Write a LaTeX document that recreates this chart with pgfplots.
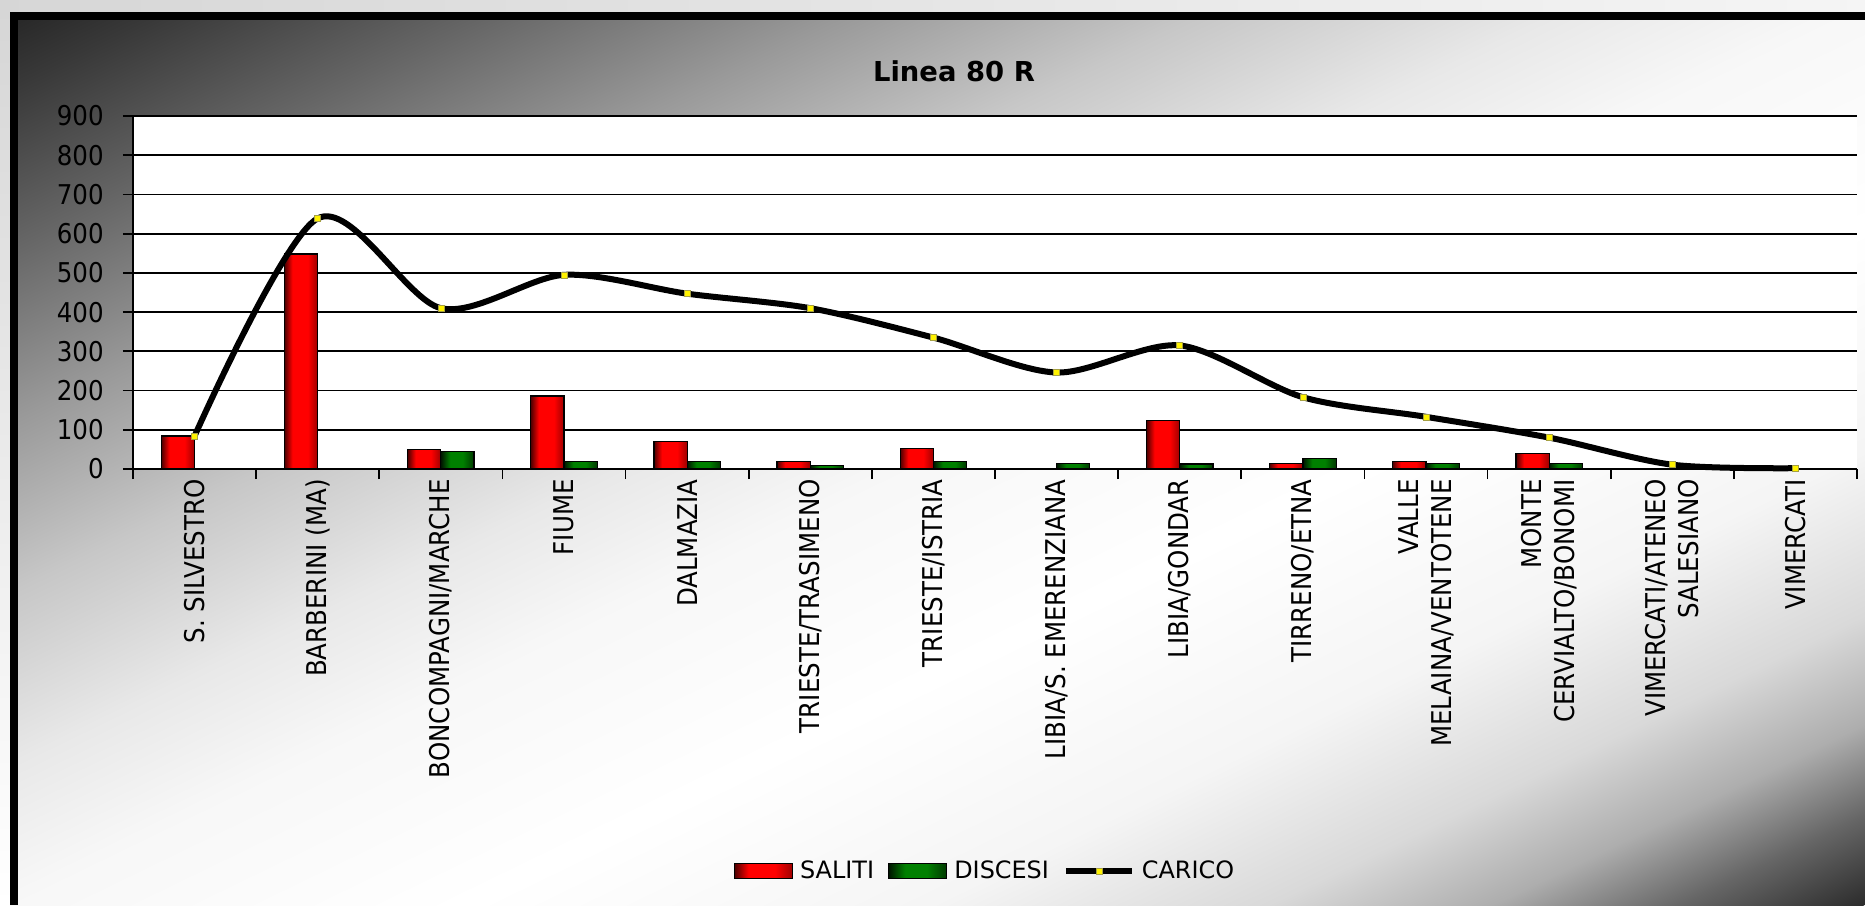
\documentclass[border=0pt]{standalone}
\usepackage{fontspec}
\setmainfont{DejaVu Sans}[FakeStretch=0.9]
\newfontfamily\plainfont{DejaVu Sans}
\usepackage{pgfplots}
\usepackage{pgfplotstable}
\pgfplotsset{compat=1.18}
\newcommand\tickfont{\fontsize{15.5}{18.8}\selectfont}
\newcommand\legfont{\plainfont\fontsize{13.6}{16}\selectfont}
\newcommand\titlefont{\plainfont\bfseries\fontsize{15.6}{18}\selectfont}
\pgfdeclarehorizontalshading{redbarshade}{100bp}{%
 color(0bp)=(red!30!black); color(25bp)=(red!30!black); color(37bp)=(red);
 color(60bp)=(red); color(75bp)=(red!62!black); color(100bp)=(red!62!black)}
\pgfdeclarehorizontalshading{greenbarshade}{100bp}{%
 color(0bp)=(green!8!black); color(25bp)=(green!8!black); color(39bp)=(green!50!black);
 color(58bp)=(green!50!black); color(75bp)=(green!22!black); color(100bp)=(green!22!black)}
\pgfplotsset{
  barleg/.style={legend image code/.code={\draw[##1] (0mm,-1.5mm) rectangle (11.6mm,1.5mm);}},
  lineleg/.style={legend image code/.code={\draw[##1, mark repeat=2, mark phase=2] plot coordinates {(0mm,0mm) (6.6mm,0mm) (13.2mm,0mm)};}},
  redbar/.style={ybar, bar width=0.27, draw=black, line width=0.25mm,
    shade, shading=redbarshade},
  greenbar/.style={ybar, bar width=0.27, draw=black, line width=0.25mm,
    shade, shading=greenbarshade},
}
\pgfplotstableread{
idx saliti discesi carico
0   84   0   84
1   548  0   639
2   50   44  410
3   186  20  495
4   70   20  447
5   20   8   410
6   52   20  335
7   0    14  246
8   124  13  315
9   14   27  183
10  20   14  133
11  39   14  80
12  0    0   11
13  0    0   2
}\linedata
\pgfdeclarehorizontalshading{bgshade}{100bp}{%
 color(0bp)=(black!87); color(25bp)=(black!87); color(27.5bp)=(black!78);
 color(32bp)=(black!60); color(36.75bp)=(black!40); color(41.5bp)=(black!22);
 color(46.25bp)=(black!9); color(50bp)=(black!3); color(56.25bp)=(white);
 color(62.5bp)=(black!4); color(67bp)=(black!15); color(70bp)=(black!32);
 color(72.5bp)=(black!60); color(75bp)=(black!83); color(100bp)=(black!83)}
\begin{document}
\begin{tikzpicture}
\path[use as bounding box] (0,0) rectangle (373mm,181mm);
\begin{scope}
\clip (0,0) rectangle (373mm,181mm);
\begin{scope}[transform canvas={cm={18.65,-9.05,37.3,18.1,(0cm,18.1cm)}}]
\shade[shading=bgshade] (0cm,-0.5cm) rectangle (2cm,0.5cm);
\end{scope}
\end{scope}
% outer margins
\shade[left color=black!16, right color=black!4] (0,178.6mm) rectangle (373mm,181mm);
\shade[top color=black!16, bottom color=white] (0,0) rectangle (2mm,178.6mm);
% frame
\fill[black] (2mm,177mm) rectangle (373mm,178.6mm);
\fill[black] (2mm,0) rectangle (3.6mm,178.6mm);
\node[font=\titlefont] at (190.8mm,166.8mm) {Linea 80 R};
\begin{axis}[
  at={(26.6mm,87.2mm)}, anchor=south west,
  width=344.8mm, height=70.6mm, scale only axis,
  xmin=-0.5, xmax=13.5, ymin=0, ymax=900,
  clip=false,
  axis background/.style={fill=white},
  axis lines*=left,
  axis line style={black, line width=0.35mm},
  tick align=outside,
  major tick length=2mm,
  tick style={black, line width=0.35mm},
  ytick={0,100,...,900},
  ymajorgrids,
  grid style={black, line width=0.35mm},
  xtick={-0.5,0.5,...,13.5},
  x tick label as interval,
  xticklabels={S. SILVESTRO, BARBERINI (MA), BONCOMPAGNI/MARCHE, FIUME, DALMAZIA, TRIESTE/TRASIMENO, TRIESTE/ISTRIA, LIBIA/S. EMERENZIANA, LIBIA/GONDAR, TIRRENO/ETNA, {VALLE\\MELAINA/VENTOTENE}, {MONTE\\CERVIALTO/BONOMI}, {VIMERCATI/ATENEO\\SALESIANO}, VIMERCATI},
  xticklabel style={rotate=90, anchor=east, inner sep=0pt, align=right, font=\tickfont},
  yticklabel style={inner sep=0pt, anchor=east, font=\tickfont, xshift=-3.8mm},
  /pgf/number format/assume math mode=true,
  legend columns=-1,
  legend style={at={(0.4936,-1.1388)}, anchor=center, draw=none, fill=none, font=\legfont,
    nodes={inner sep=0pt},
    /tikz/every odd column/.append style={column sep=1.4mm},
    /tikz/every even column/.append style={column sep=2.8mm}},
]
\addlegendimage{redbar, barleg}
\addlegendentry{SALITI}
\addlegendimage{greenbar, barleg}
\addlegendentry{DISCESI}
\pgfplotsinvokeforeach{0,...,13}{
  \addplot[redbar, bar shift=-0.135, forget plot, x filter/.expression={x==#1 ? x : nan}]
    table[x=idx, y=saliti] {\linedata};
  \addplot[greenbar, bar shift=0.135, forget plot, x filter/.expression={x==#1 ? x : nan}]
    table[x=idx, y=discesi] {\linedata};
}
\addplot[black, line width=1.2mm, smooth, mark=square*, mark size=0.6mm,
  mark options={fill=yellow, draw=yellow!60!black, line width=0.1mm}, lineleg]
  table[x=idx, y=carico] {\linedata};
\addlegendentry{CARICO}
\end{axis}
\end{tikzpicture}
\end{document}
